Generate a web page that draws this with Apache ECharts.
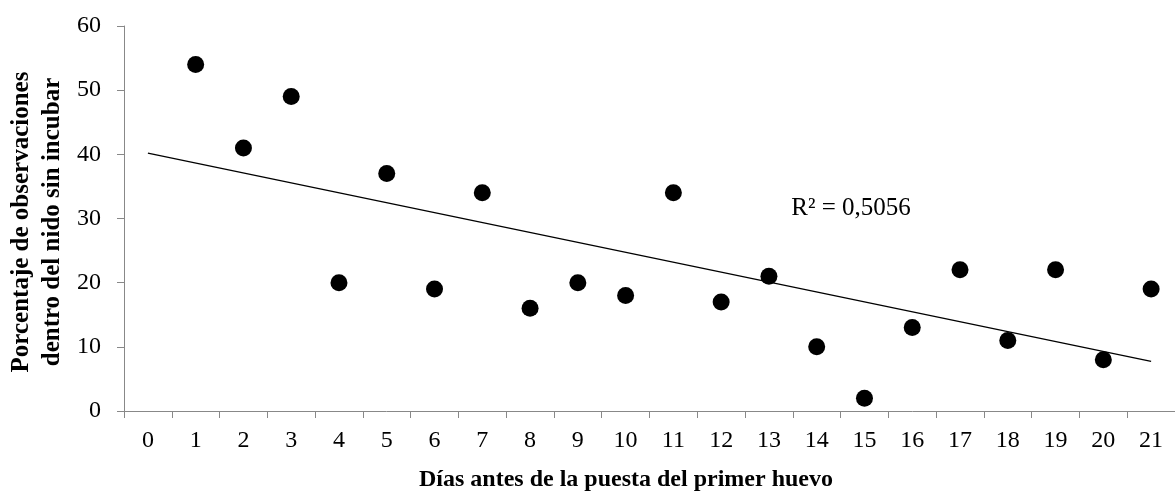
<!DOCTYPE html>
<html>
<head>
<meta charset="utf-8">
<script src="https://cdn.jsdelivr.net/npm/echarts@6/dist/echarts.min.js"></script>
<style>
html,body{margin:0;padding:0;background:#fff;}
#chart{width:1175px;height:494px;}
</style>
</head>
<body>
<div id="chart"></div>
<script>
// Data
const days = ['0','1','2','3','4','5','6','7','8','9','10','11','12','13','14','15','16','17','18','19','20','21'];
const obsDays = [1,2,3,4,5,6,7,8,9,10,11,12,13,14,15,16,17,18,19,20,21];
const obsValues = [54,41,49,20,37,19,34,16,20,18,34,17,21,10,2,13,22,11,22,8,19];
const yTicks = [0,10,20,30,40,50,60];
const r2Label = 'R² = 0,5056';
const xTitle = 'Días antes de la puesta del primer huevo';
const yTitle = 'Porcentaje de observaciones\ndentro del nido sin incubar';

// Linear trend (least squares) from the data
const n = obsDays.length;
const mx = obsDays.reduce((a,b)=>a+b,0)/n;
const my = obsValues.reduce((a,b)=>a+b,0)/n;
let sxy=0, sxx=0;
for(let i=0;i<n;i++){ sxy+=(obsDays[i]-mx)*(obsValues[i]-my); sxx+=(obsDays[i]-mx)**2; }
const slope = sxy/sxx, intercept = my - slope*mx;
const trend = [[0, intercept], [21, intercept + slope*21]];

const FONT = '"Liberation Serif","Times New Roman",serif';
const AX = '#888888';

const chart = echarts.init(document.getElementById('chart'), null, {renderer:'canvas'});
chart.setOption({
  animation:false,
  backgroundColor:'#ffffff',
  grid:{left:124, right:-3.5, top:26, bottom:83, containLabel:false},
  xAxis:{
    type:'category', data:days, boundaryGap:true,
    axisLine:{show:true, lineStyle:{color:AX, width:1}},
    axisTick:{show:true, length:7, inside:false, lineStyle:{color:AX}},
    axisLabel:{color:'#000', fontFamily:FONT, fontSize:24, margin:18, interval:0},
    splitLine:{show:false}
  },
  yAxis:{
    type:'value', min:yTicks[0], max:yTicks[yTicks.length-1], interval:10,
    axisLine:{show:true, lineStyle:{color:AX, width:1}},
    axisTick:{show:true, length:7, lineStyle:{color:AX}},
    axisLabel:{color:'#000', fontFamily:FONT, fontSize:24, margin:23},
    splitLine:{show:false}
  },
  graphic:[
    {type:'text', x:626, y:480, style:{text:xTitle, font:'bold 24px '+FONT, fill:'#000', textAlign:'center', textVerticalAlign:'middle'}},
    {type:'text', x:37, y:222, rotation:Math.PI/2, style:{text:yTitle, font:'bold 25px '+FONT, lineHeight:31, fill:'#000', textAlign:'center', textVerticalAlign:'middle'}},
    {type:'text', x:851, y:208, style:{text:r2Label, font:'25px '+FONT, fill:'#000', textAlign:'center', textVerticalAlign:'middle'}}
  ],
  series:[
    {type:'line', data:trend, symbol:'none', lineStyle:{color:'#000', width:1.3}, z:2, silent:true},
    {type:'scatter', data:obsDays.map((d,i)=>[d, obsValues[i]]), symbol:'circle', symbolSize:17, itemStyle:{color:'#000', opacity:1}, z:3}
  ]
});
</script>
</body>
</html>
